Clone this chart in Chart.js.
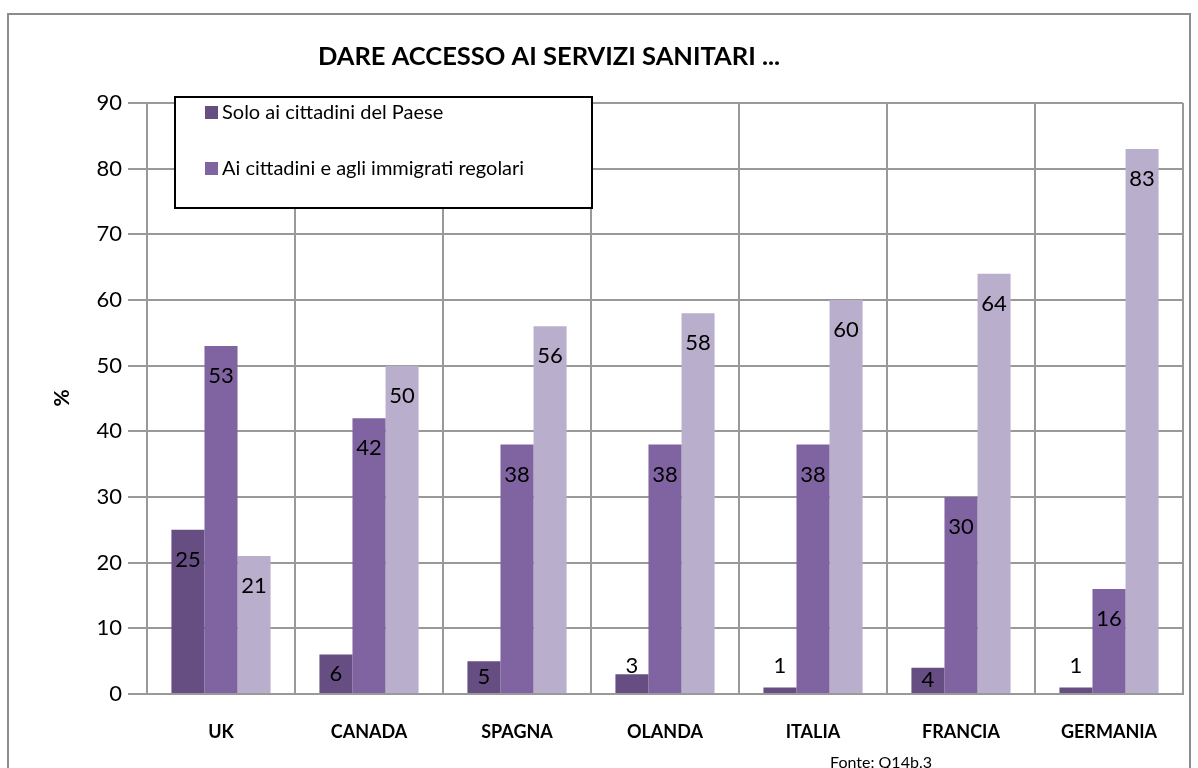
<!DOCTYPE html>
<html>
<head>
<meta charset="utf-8">
<script src="https://cdn.jsdelivr.net/npm/chart.js@4.4.1/dist/chart.umd.min.js"></script>
<style>
  html, body { margin: 0; padding: 0; background: #fff; }
  #wrap { width: 1198px; height: 768px; position: relative; }
</style>
</head>
<body>
<div id="wrap"><canvas id="myChart" width="1198" height="768"></canvas></div>
<script>
// data
const countries = ["UK", "CANADA", "SPAGNA", "OLANDA", "ITALIA", "FRANCIA", "GERMANIA"];
const soloCittadini = [25, 6, 5, 3, 1, 4, 1];
const cittadiniRegolari = [53, 42, 38, 38, 38, 30, 16];
const tutti = [21, 50, 56, 58, 60, 64, 83];
const yTicks = [0, 10, 20, 30, 40, 50, 60, 70, 80, 90];

const FONT = "Lato, 'Noto Sans', sans-serif";

// frame, title, y title, source note and the boxed legend
const decorations = {
    id: 'decorations',
    beforeDraw(chart) {
        const ctx = chart.ctx;
        ctx.save();
        ctx.fillStyle = '#fff';
        ctx.fillRect(0, 0, chart.width, chart.height);
        ctx.strokeStyle = '#8c8c8c';
        ctx.lineWidth = 2;
        ctx.strokeRect(8, 14, 1182, 800);
        ctx.restore();
    },
    afterDraw(chart) {
        const ctx = chart.ctx;
        ctx.save();
        ctx.fillStyle = '#000';
        ctx.textAlign = 'center';
        ctx.textBaseline = 'middle';
        ctx.font = "bold 25.5px " + FONT;
        ctx.fillText("DARE ACCESSO AI SERVIZI SANITARI ...", 549, 57);

        ctx.font = "bold 21px " + FONT;
        ctx.translate(62, 398);
        ctx.rotate(-Math.PI / 2);
        ctx.fillText("%", 0, 0);
        ctx.restore();

        ctx.save();
        ctx.fillStyle = '#000';
        ctx.textAlign = 'center';
        ctx.textBaseline = 'middle';
        ctx.font = "16px " + FONT;
        ctx.fillText("Fonte: Q14b.3", 881, 763);

        // legend box
        ctx.fillStyle = '#fff';
        ctx.fillRect(175, 97, 417, 111);
        ctx.strokeStyle = '#000';
        ctx.lineWidth = 2;
        ctx.strokeRect(175, 97, 417, 111);
        const items = chart.data.datasets.slice(0, 2);
        ctx.textAlign = 'left';
        ctx.font = "20px " + FONT;
        items.forEach(function(ds, i) {
            const y = 112 + i * 56;
            ctx.fillStyle = ds.backgroundColor;
            ctx.fillRect(205, y - 6, 13, 13);
            ctx.fillStyle = '#000';
            ctx.fillText(ds.label, 222, y + 1);
        });
        ctx.restore();
    }
};

// value labels: inside the top of the bar, above it when the bar is too short
const valueLabels = {
    id: 'valueLabels',
    afterDatasetsDraw(chart) {
        const ctx = chart.ctx;
        ctx.save();
        ctx.fillStyle = '#000';
        ctx.textAlign = 'center';
        ctx.textBaseline = 'middle';
        ctx.font = "22px " + FONT;
        chart.data.datasets.forEach(function(ds, di) {
            chart.getDatasetMeta(di).data.forEach(function(bar, i) {
                const top = bar.y, bottom = bar.base;
                const h = bottom - top;
                let y;
                if (h >= 22) {
                    y = Math.min(top + 30, (top + bottom) / 2);
                } else {
                    y = bottom - 27;
                }
                ctx.fillText(ds.data[i], bar.x, y);
            });
        });
        ctx.restore();
    }
};

new Chart(document.getElementById('myChart'), {
    type: 'bar',
    data: {
        labels: countries,
        datasets: [
            { label: "Solo ai cittadini del Paese", data: soloCittadini, backgroundColor: '#664E83' },
            { label: "Ai cittadini e agli immigrati regolari", data: cittadiniRegolari, backgroundColor: '#8064A2' },
            { label: "A tutti", data: tutti, backgroundColor: '#B9AFCC' }
        ]
    },
    options: {
        responsive: false,
        animation: false,
        devicePixelRatio: 1,
        layout: { padding: { top: 103, right: 15, bottom: 0, left: 0 } },
        datasets: { bar: { categoryPercentage: 0.67, barPercentage: 1 } },
        plugins: {
            legend: { display: false },
            title: { display: false },
            tooltip: { enabled: false }
        },
        scales: {
            x: {
                grid: { color: '#999', lineWidth: 2, drawTicks: false, offset: true },
                border: { color: '#999', width: 2 },
                ticks: { color: '#000', font: { family: FONT, size: 18, weight: 'bold' }, padding: 27, maxRotation: 0 },
                afterFit(scale) { scale.height = 74; }
            },
            y: {
                min: 0,
                max: 90,
                afterBuildTicks(scale) { scale.ticks = yTicks.map(function(v) { return { value: v }; }); },
                grid: { color: '#999', lineWidth: 2, tickLength: 19 },
                border: { color: '#999', width: 2 },
                ticks: { color: '#000', font: { family: FONT, size: 22 }, padding: 6 },
                afterFit(scale) { scale.width = 147; }
            }
        }
    },
    plugins: [decorations, valueLabels]
});
</script>
</body>
</html>
